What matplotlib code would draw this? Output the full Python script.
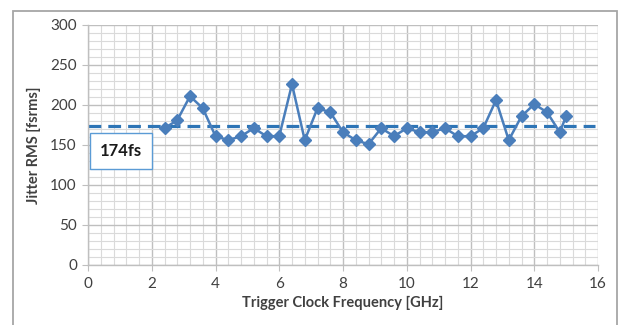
import matplotlib
matplotlib.use("Agg")
import matplotlib.pyplot as plt
from matplotlib.patches import Rectangle
from matplotlib.ticker import MultipleLocator

# data
freq_ghz = [2.4, 2.8, 3.2, 3.6, 4.0, 4.4, 4.8, 5.2, 5.6, 6.0, 6.4, 6.8, 7.2, 7.6,
            8.0, 8.4, 8.8, 9.2, 9.6, 10.0, 10.4, 10.8, 11.2, 11.6, 12.0, 12.4,
            12.8, 13.2, 13.6, 14.0, 14.4, 14.8, 15.0]
jitter_fs = [171, 181, 211, 196, 161, 156, 161, 171, 161, 161, 226, 156, 196, 191,
             166, 156, 151, 171, 161, 171, 166, 166, 171, 161, 161, 171,
             206, 156, 186, 201, 191, 166, 186]
mean_jitter = 174
mean_label = "174fs"

plt.rcParams["font.family"] = ["Lato", "DejaVu Sans"]
txt = "#404040"

fig = plt.figure(figsize=(6.21, 3.25), dpi=100)
# chart frame like the spreadsheet export
fig.patches.append(Rectangle((13 / 621, -0.1), (617 - 13) / 621, 1.1 - 11 / 325,
                             transform=fig.transFigure, fill=False,
                             edgecolor="#a6a6a6", linewidth=1.3))
ax = fig.add_axes([88 / 621, 60 / 325, 510 / 621, 240 / 325])

ax.set_xlim(0, 16)
ax.set_ylim(0, 300)
ax.xaxis.set_major_locator(MultipleLocator(2))
ax.xaxis.set_minor_locator(MultipleLocator(0.4))
ax.yaxis.set_major_locator(MultipleLocator(50))
ax.yaxis.set_minor_locator(MultipleLocator(10))
ax.grid(which="major", color="#bfbfbf", linewidth=1.0)
ax.grid(which="minor", color="#dadada", linewidth=0.8)
ax.set_axisbelow(True)

for s in ["top", "right"]:
    ax.spines[s].set_visible(False)
for s in ["left", "bottom"]:
    ax.spines[s].set_color("#bfbfbf")
    ax.spines[s].set_linewidth(1.0)
ax.tick_params(which="major", length=4, color="#bfbfbf", labelsize=11,
               labelcolor=txt, pad=4)
ax.tick_params(axis="x", which="major", pad=5)
ax.tick_params(which="minor", length=0)

ax.axhline(mean_jitter, xmin=0, xmax=0.995, color="#2e75b6", linewidth=2.3,
           dashes=(4, 2.2))
ax.plot(freq_ghz, jitter_fs, color="#4a7ebb", linewidth=1.8, marker="D",
        markersize=6, zorder=3)

ax.text(1.03, 142, mean_label, ha="center", va="center", fontsize=12,
        fontweight="bold", color="#1a1a1a",
        bbox=dict(boxstyle="square,pad=0.6", facecolor="white",
                  edgecolor="#5b9bd5", linewidth=1.0), zorder=4)

ax.set_xlabel("Trigger Clock Frequency [GHz]", fontsize=10.5, fontweight="bold",
              color=txt, labelpad=3)
ax.set_ylabel("Jitter RMS [fsrms]", fontsize=10.5, fontweight="bold",
              color=txt, labelpad=7)

fig.savefig("out.png", dpi=100)
